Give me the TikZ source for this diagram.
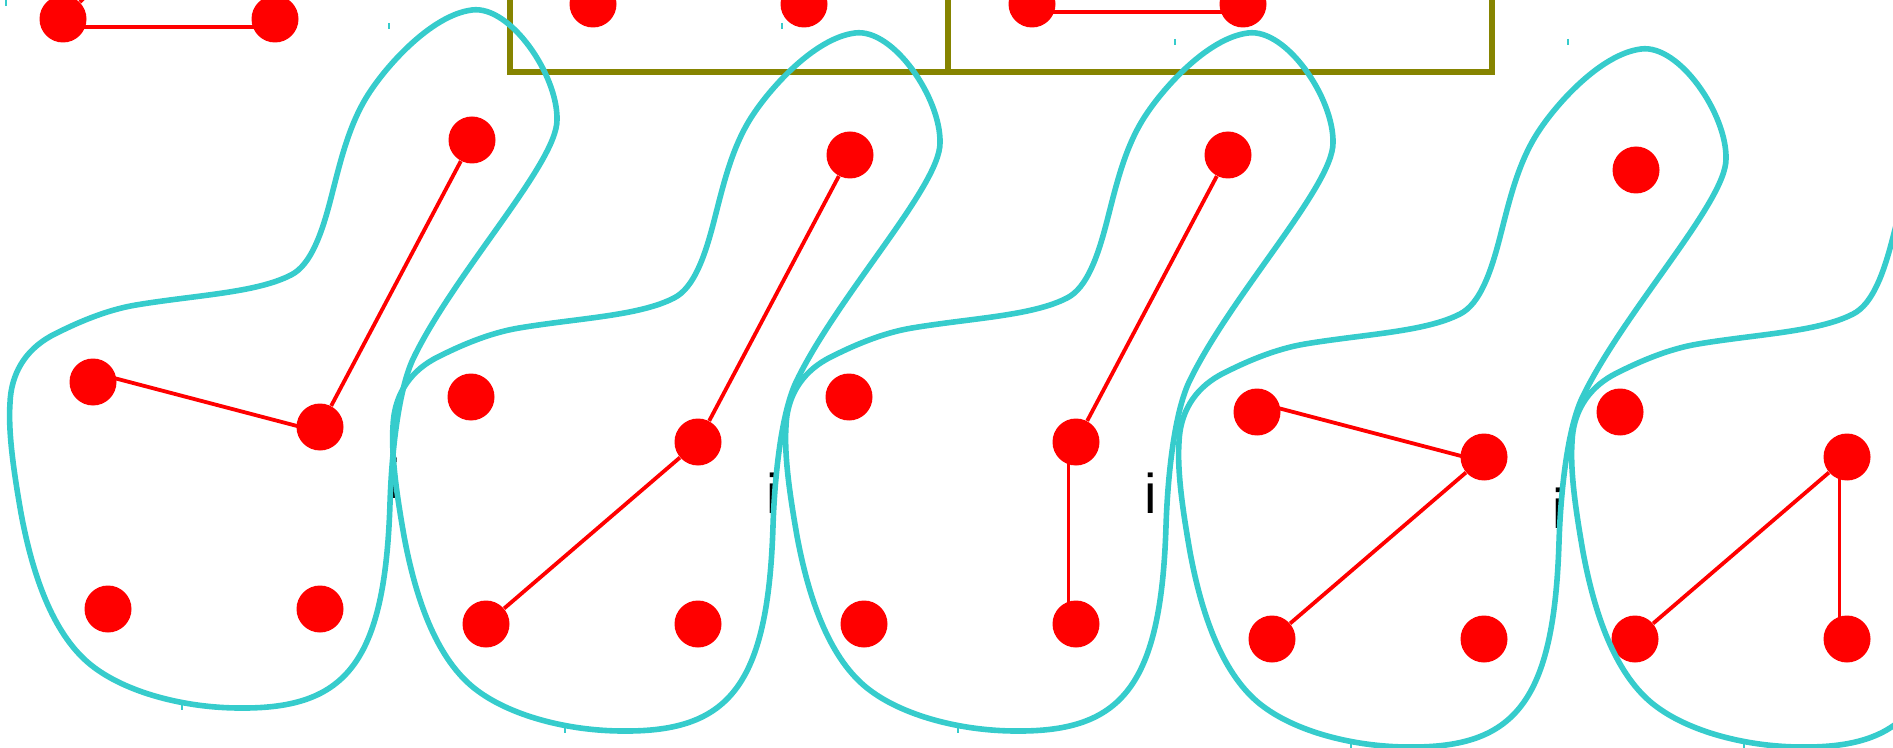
\documentclass[tikz,border=0pt]{standalone}
\usepackage{fontspec}
\setmainfont{Liberation Sans}
\usepackage{tikz}

\definecolor{blobcyan}{RGB}{54,204,204}
\definecolor{frameolive}{RGB}{134,132,0}

\tikzset{
	vertex/.style={circle, fill=red, inner sep=0pt, minimum size=23.5pt},
	link/.style={red, line width=1.9pt},
	blob/.style={blobcyan, line width=2.8pt, line join=round},
	olivebox/.style={frameolive, line width=2.8pt},
	ilabel/.style={anchor=base, inner sep=0pt, font=\fontsize{28}{30}\selectfont},
}

\begin{document}
\begin{tikzpicture}[x=0.5pt, y=-0.5pt]
		\useasboundingbox (0,0) rectangle (1893,748);
		% letters, partly hidden under the outlines
		\foreach \g/\dx/\dy in {1/0/0,2/378/15,3/756/15,4/1164/30} {
				\node[ilabel] (i\g) at ({395+\dx},{498+\dy}) {i};
			}
		% frames of the upper row
		\draw[olivebox] (510,-30) rectangle (948,72);
		\draw[olivebox] (948,-30) rectangle (1492,72);
		% upper row, cut off at the top
		\node[vertex] (p1) at (63,19) {};
		\node[vertex] (p2) at (275,19) {};
		\node[vertex] (q1) at (593,4) {};
		\node[vertex] (q2) at (804,4) {};
		\node[vertex] (r1) at (1032,4) {};
		\node[vertex] (r2) at (1243,4) {};
		\coordinate (p0) at (123,-41);
		\draw[link] ([yshift=-4pt]p1.center) -- ([yshift=-4pt]p2.center);
		\draw[link] (p1) -- (p0);
		\draw[link] ([yshift=-4pt]r1.center) -- ([yshift=-4pt]r2.center);
		% the five groups of vertices
		\foreach \g/\dx/\dy in {1/0/0,2/378/15,3/756/15,4/1164/30,5/1527/30} {
				\node[vertex] (lu\g) at ({93+\dx},{382+\dy}) {};
				\node[vertex] (ru\g) at ({320+\dx},{427+\dy}) {};
				\node[vertex] (ll\g) at ({108+\dx},{609+\dy}) {};
				\node[vertex] (rl\g) at ({320+\dx},{609+\dy}) {};
			}
		\foreach \g/\dx/\dy in {1/0/0,2/378/15,3/756/15,4/1164/30} {
				\node[vertex] (t\g) at ({472+\dx},{140+\dy}) {};
			}
		% edges
		\draw[link] ([yshift=4.75pt]lu1.center) -- ([yshift=-2.5pt]ru1.center);
		\draw[link] (ru1) -- (t1);
		\draw[link] (ll2) -- (ru2);
		\draw[link] (ru2) -- (t2);
		\draw[link] ([xshift=-3.75pt]ru3.center) -- ([xshift=-3.75pt]rl3.center);
		\draw[link] (ru3) -- (t3);
		\draw[link] ([yshift=4.75pt]lu4.center) -- ([yshift=-2.5pt]ru4.center);
		\draw[link] (ru4) -- (ll4);
		\draw[link] (ll5) -- (ru5);
		\draw[link] ([xshift=-3.75pt]ru5.center) -- ([xshift=-3.75pt]rl5.center);
		% outlines on top
		\foreach \ox/\oy in {6/3,389/26,782/26,1175/42,1568/42} {
				\begin{scope}[shift={(\ox,\oy)}]
					\draw[blob] (466,7) .. controls (504,2) and (552,72) .. (551,117)
						.. controls (551,160) and (450,268) .. (408,354)
						.. controls (394,382) and (386,440) .. (384,500)
						.. controls (379,660) and (340,706) .. (234,705)
						.. controls (180,705) and (120,690) .. (85,662)
						.. controls (50,634) and (28,580) .. (15,510)
						.. controls (8,470) and (2,430) .. (4,400)
						.. controls (5,372) and (18,348) .. (45,333)
						.. controls (70,320) and (100,307) .. (130,302)
						.. controls (190,292) and (250,290) .. (285,272)
						.. controls (305,262) and (316,230) .. (325,195)
						.. controls (334,160) and (342,125) .. (360,95)
						.. controls (378,65) and (425,12) .. (466,7) -- cycle;
					\draw[blob, line width=1pt] (0,-3) -- (0,3);
					\draw[blob, line width=1pt] (176,701) -- (176,707);
				\end{scope}
			}
	\end{tikzpicture}
\end{document}
